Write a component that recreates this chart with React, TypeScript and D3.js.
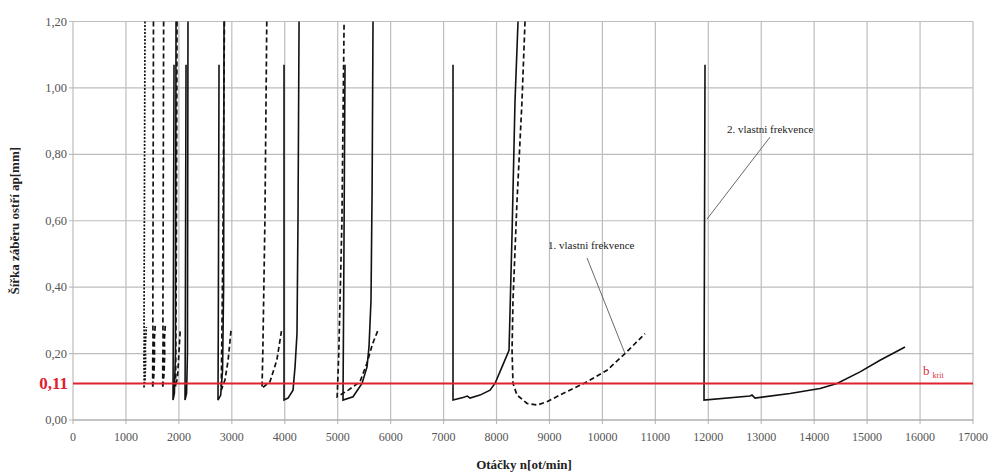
import React from "react";
import * as d3 from "d3";

// otacky n [ot/min] / sirka zaberu ap [mm]
// 1. vlastni frekvence (carkovane laloky)
const dashedLobes: [number, number][][] = [
  [[1360, 1.2], [1348, 0.6], [1342, 0.3], [1345, 0.24], [1340, 0.18], [1345, 0.13], [1340, 0.096], [1360, 0.12], [1372, 0.18], [1365, 0.22], [1385, 0.28]],
  [[1520, 1.2], [1511, 0.5], [1508, 0.3], [1512, 0.24], [1506, 0.18], [1505, 0.096], [1530, 0.14], [1540, 0.2], [1535, 0.24], [1555, 0.29]],
  [[1712, 1.2], [1702, 0.5], [1698, 0.3], [1702, 0.24], [1696, 0.18], [1695, 0.096], [1720, 0.14], [1732, 0.2], [1726, 0.24], [1745, 0.29]],
  [[1965, 1.2], [1952, 0.5], [1938, 0.1], [1975, 0.13], [2000, 0.2], [2025, 0.27]],
  [[2860, 1.2], [2830, 0.5], [2800, 0.09], [2870, 0.12], [2930, 0.18], [2985, 0.27]],
  [[3660, 1.2], [3625, 0.6], [3585, 0.2], [3570, 0.096], [3720, 0.115], [3850, 0.18], [3940, 0.27]],
  [[5120, 1.19], [5080, 0.6], [5020, 0.2], [4990, 0.07], [5200, 0.09], [5420, 0.115], [5550, 0.17], [5660, 0.23], [5760, 0.27]],
  [[8538, 1.2], [8481, 0.96], [8387, 0.66], [8311, 0.36], [8293, 0.21], [8311, 0.11], [8387, 0.075], [8576, 0.05], [8765, 0.045], [8954, 0.055], [9256, 0.08], [9709, 0.115], [10087, 0.15], [10427, 0.2], [10805, 0.26]],
];

// 2. vlastni frekvence (plne laloky)
const solidLobes: [number, number][][] = [
  [[1908, 1.07], [1895, 0.3], [1889, 0.06], [1915, 0.08], [1935, 0.2], [1946, 1.2]],
  [[2135, 1.07], [2122, 0.3], [2116, 0.06], [2145, 0.08], [2162, 0.2], [2172, 1.2]],
  [[2758, 1.07], [2745, 0.3], [2739, 0.06], [2790, 0.075], [2825, 0.15], [2845, 0.4], [2853, 1.2]],
  [[3986, 1.07], [3986, 0.06], [4061, 0.066], [4156, 0.09], [4194, 0.16], [4231, 0.26], [4250, 0.6], [4270, 1.2]],
  [[5138, 1.07], [5110, 0.3], [5100, 0.06], [5289, 0.07], [5459, 0.11], [5554, 0.16], [5591, 0.22], [5629, 0.36], [5650, 0.7], [5667, 1.2]],
  [[7178, 1.07], [7178, 0.06], [7367, 0.068], [7450, 0.072], [7499, 0.066], [7688, 0.075], [7877, 0.09], [7971, 0.11], [8104, 0.16], [8236, 0.21], [8293, 0.56], [8349, 0.96], [8406, 1.2]],
  [[11938, 1.07], [11919, 0.06], [12788, 0.072], [12826, 0.075], [12883, 0.066], [13544, 0.08], [14111, 0.095], [14432, 0.11], [14866, 0.145], [15244, 0.18], [15716, 0.22]],
];

const xTicks = d3.range(0, 17001, 1000);
const yTicks = [0, 0.2, 0.4, 0.6, 0.8, 1.0, 1.2];
const bKrit = 0.11;

// popisky: [n, ap]
const label1 = { text: "1. vlastni frekvence", at: [8973, 0.515], from: [9709, 0.488], to: [10427, 0.2] };
const label2 = { text: "2. vlastni frekvence", at: [12354, 0.864], from: [13166, 0.852], to: [11976, 0.605] };

const W = 991;
const H = 474;
const margin = { top: 21.5, right: 18, bottom: 54, left: 73 };

export default function App() {
  const x = d3.scaleLinear().domain([0, 17000]).range([margin.left, W - margin.right]);
  const y = d3.scaleLinear().domain([0, 1.2]).range([H - margin.bottom, margin.top]);
  const line = d3
    .line<[number, number]>()
    .x((d) => x(d[0]))
    .y((d) => y(d[1]));
  const fmt = (v: number) => v.toFixed(2).replace(".", ",");
  const grid = "#bdbdbd";

  return (
    <svg
      width={W}
      height={H}
      style={{
        position: "absolute",
        left: 0,
        top: 0,
        background: "#fff",
        fontFamily: "Liberation Serif, Times New Roman, serif",
      }}
    >
      {/* mrizka */}
      {xTicks.map((t) => (
        <line key={"gx" + t} x1={x(t)} x2={x(t)} y1={y(1.2)} y2={y(0) + 4} stroke={grid} strokeWidth={1.2} />
      ))}
      {yTicks.map((t) => (
        <line key={"gy" + t} x1={x(0) - 4} x2={x(17000)} y1={y(t)} y2={y(t)} stroke={grid} strokeWidth={1.2} />
      ))}
      <line x1={x(0)} x2={x(17000)} y1={y(0)} y2={y(0)} stroke="#a8a8a8" strokeWidth={1.2} />

      {/* popisky os */}
      {xTicks.map((t) => (
        <text key={"tx" + t} x={x(t)} y={y(0) + 21} textAnchor="middle" fontSize={12} fill="#555">
          {t}
        </text>
      ))}
      {yTicks.map((t) => (
        <text key={"ty" + t} x={x(0) - 6} y={y(t) + 4} textAnchor="end" fontSize={12.5} fill="#555">
          {fmt(t)}
        </text>
      ))}
      <text x={x(0) - 5} y={y(bKrit) + 6} textAnchor="end" fontSize={17} fontWeight="bold" fill="#e0222e">
        0,11
      </text>
      <text
        transform={`translate(19, ${(y(0) + y(1.2)) / 2}) rotate(-90)`}
        textAnchor="middle"
        fontSize={13}
        fontWeight="bold"
        fill="#222"
      >
        Šířka záběru ostří ap[mm]
      </text>
      <text x={524} y={469} textAnchor="middle" fontSize={13} fontWeight="bold" fill="#222">
        Otáčky n[ot/min]
      </text>

      {/* laloky */}
      {dashedLobes.map((d, i) => (
        <path
          key={"d" + i}
          d={line(d) || ""}
          fill="none"
          stroke="#111"
          strokeWidth={1.7}
          strokeDasharray={i === 0 ? "2,1.5" : "5,3"}
        />
      ))}
      {solidLobes.map((d, i) => (
        <path key={"s" + i} d={line(d) || ""} fill="none" stroke="#111" strokeWidth={1.6} />
      ))}

      {/* b krit */}
      <line x1={x(0)} x2={x(17000)} y1={y(bKrit)} y2={y(bKrit)} stroke="#e0222e" strokeWidth={2} />
      <text x={x(16057)} y={y(0.135)} fontSize={13} fill="#d9303a">
        b
        <tspan fontSize={8} dx={3} dy={3}>
          krit
        </tspan>
      </text>

      {/* anotace */}
      {[label1, label2].map((l, i) => (
        <g key={"l" + i}>
          <line x1={x(l.from[0])} y1={y(l.from[1])} x2={x(l.to[0])} y2={y(l.to[1])} stroke="#444" strokeWidth={0.8} />
          <text x={x(l.at[0])} y={y(l.at[1])} fontSize={11} fill="#222">
            {l.text}
          </text>
        </g>
      ))}
    </svg>
  );
}
